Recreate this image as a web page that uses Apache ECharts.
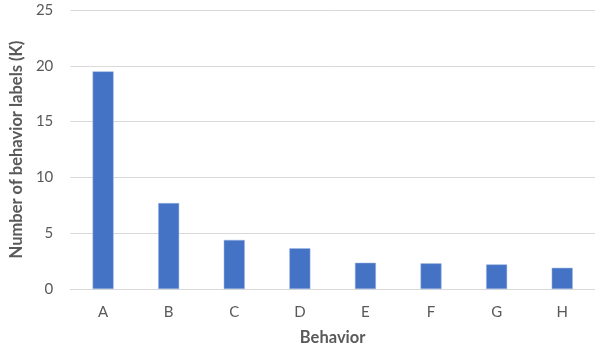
<!DOCTYPE html>
<html>
<head>
<meta charset="utf-8">
<script src="https://cdn.jsdelivr.net/npm/echarts@6/dist/echarts.min.js"></script>
<style>
  html, body { margin: 0; padding: 0; background: #fff; }
  #chart { width: 595px; height: 354px; }
</style>
</head>
<body>
<div id="chart"></div>
<script>
// Behavior categories and label counts (thousands)
const categories = ['A', 'B', 'C', 'D', 'E', 'F', 'G', 'H'];
const labelCounts = [19.5, 7.7, 4.4, 3.65, 2.35, 2.3, 2.2, 1.9];
const yTicks = { min: 0, max: 25, interval: 5 };

const textColor = '#595959';
const fontFamily = 'Lato, "Open Sans", sans-serif';

const chart = echarts.init(document.getElementById('chart'), null, { renderer: 'canvas' });
chart.setOption({
  animation: false,
  backgroundColor: '#ffffff',
  grid: { left: 70, right: -6, top: 10, bottom: 65 },
  xAxis: {
    type: 'category',
    data: categories,
    name: 'Behavior',
    nameLocation: 'middle',
    nameGap: 40,
    nameTextStyle: { color: textColor, fontFamily, fontSize: 16.5, fontWeight: 'bold' },
    axisLine: { lineStyle: { color: '#d9d9d9', width: 1 } },
    axisTick: { show: false },
    axisLabel: { color: textColor, fontFamily, fontSize: 15, margin: 16 }
  },
  yAxis: {
    type: 'value',
    min: yTicks.min,
    max: yTicks.max,
    interval: yTicks.interval,
    name: 'Number of behavior labels (K)',
    nameLocation: 'middle',
    nameGap: 45,
    nameRotate: 90,
    nameTextStyle: { color: textColor, fontFamily, fontSize: 16.5, fontWeight: 'bold' },
    axisLine: { show: false },
    axisTick: { show: false },
    axisLabel: { color: textColor, fontFamily, fontSize: 15, margin: 17 },
    splitLine: { lineStyle: { color: '#d9d9d9', width: 1 } }
  },
  series: [{
    type: 'bar',
    data: labelCounts,
    barWidth: 21,
    itemStyle: { color: '#4472c4', borderColor: '#9db5e3', borderWidth: 0.5 }
  }]
});
</script>
</body>
</html>
